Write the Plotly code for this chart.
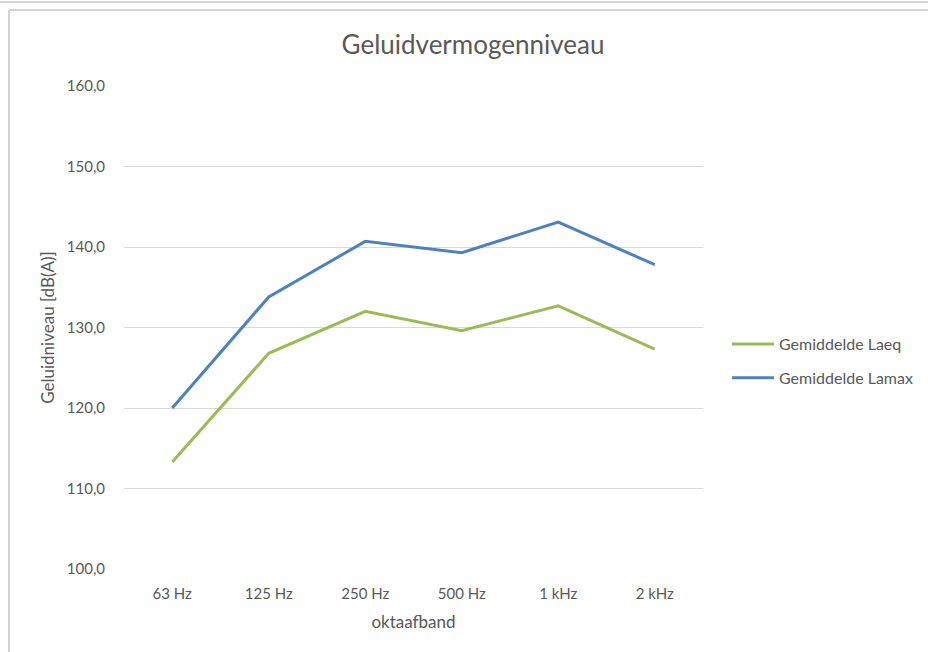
import plotly.graph_objects as go

categories = ["63 Hz", "125 Hz", "250 Hz", "500 Hz", "1 kHz", "2 kHz"]
laeq = [113.3, 126.8, 132.0, 129.6, 132.7, 127.3]
lamax = [120.0, 133.8, 140.7, 139.3, 143.1, 137.8]
y_ticks = [100, 110, 120, 130, 140, 150, 160]

W, H = 928, 652
L, R, T, B = 124, 225, 86, 83
pw, ph = W - L - R, H - T - B

def px(x):
    return (x - L) / pw

def py(y):
    return (H - B - y) / ph

font = "Lato, 'Open Sans', sans-serif"
grey = "#595959"

fig = go.Figure()
fig.add_trace(go.Scatter(x=categories, y=laeq, mode="lines", name="Gemiddelde Laeq",
                         line=dict(color="#9BBB59", width=3), legendgroup="a"))
fig.add_trace(go.Scatter(x=categories, y=lamax, mode="lines", name="Gemiddelde Lamax",
                         line=dict(color="#4F81BD", width=3), legendgroup="b"))

shapes = [
    dict(type="line", xref="paper", yref="paper", x0=px(0), x1=px(W), y0=py(2), y1=py(2),
         line=dict(color="#d4d4d4", width=2)),
    dict(type="line", xref="paper", yref="paper", x0=px(9), x1=px(W), y0=py(10), y1=py(10),
         line=dict(color="#d4d4d4", width=2)),
    dict(type="line", xref="paper", yref="paper", x0=px(9), x1=px(9), y0=py(10), y1=py(H),
         line=dict(color="#d4d4d4", width=2)),
]

fig.update_layout(
    width=W, height=H,
    margin=dict(l=L, r=R, t=T, b=B, autoexpand=False),
    paper_bgcolor="white", plot_bgcolor="white",
    separators=", ",
    font=dict(family=font, color=grey, size=15),
    title=dict(text="Geluidvermogenniveau", x=473 / W, xanchor="center",
               y=1 - 45 / H, yanchor="middle", font=dict(size=26, color=grey, family=font)),
    xaxis=dict(type="category", showgrid=False, showline=False, zeroline=False,
               ticks="", tickfont=dict(size=15, color=grey), ticklabelstandoff=14,
               title=dict(text="oktaafband", font=dict(size=17, color=grey), standoff=15),
               range=[-0.5, len(categories) - 0.5]),
    yaxis=dict(range=[100, 160], tickvals=y_ticks, tickformat=".1f",
               showgrid=True, gridcolor="#d9d9d9", gridwidth=1, zeroline=False,
               showline=False, ticks="", ticklabelstandoff=18,
               tickfont=dict(size=15, color=grey),
               title=dict(text="Geluidniveau [dB(A)]", font=dict(size=17, color=grey), standoff=7)),
    legend=dict(x=px(727), y=py(361), xanchor="left", yanchor="middle",
                font=dict(size=16, color=grey), tracegroupgap=10, traceorder="grouped",
                itemwidth=42, bgcolor="rgba(0,0,0,0)"),
    shapes=shapes,
)

fig.write_html("out.html", config={"displayModeBar": False},
               post_script="document.body.style.margin='0';")
